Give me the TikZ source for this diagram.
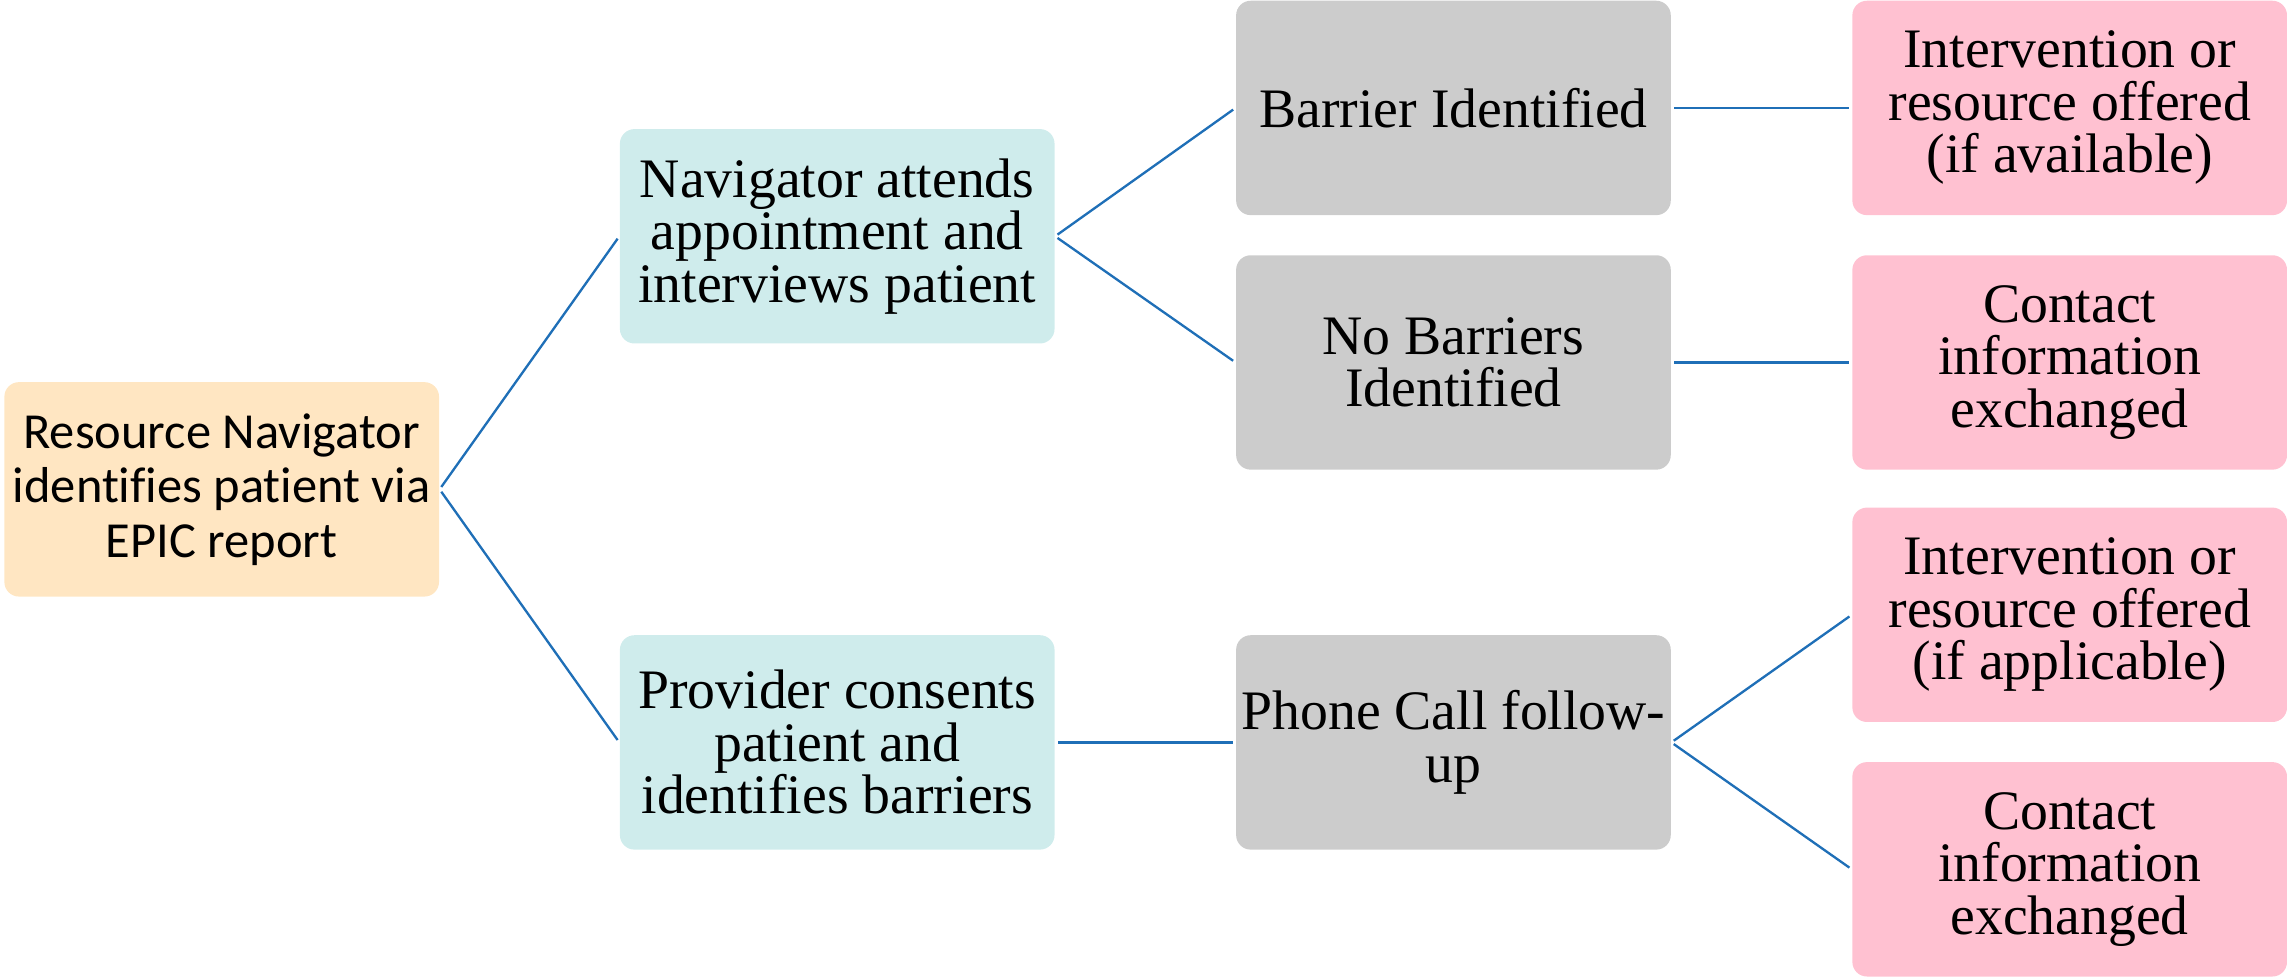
\documentclass[tikz,border=0pt]{standalone}
\usepackage{fontspec}
\setmainfont{Liberation Serif}
\newfontfamily\rootfont[Ligatures=NoCommon]{Carlito}
\begin{document}
\begin{tikzpicture}[x=0.5pt,y=-0.5pt,
  box/.style={rounded corners=5pt,minimum width=149pt,minimum height=73.5pt,
    inner sep=1pt,align=center,
    font=\fontsize{19.1}{18}\selectfont},
  rootbox/.style={box,fill=rootfill,font=\rootfont\fontsize{17.3}{18.7}\selectfont},
  tealbox/.style={box,fill=tealfill},
  graybox/.style={box,fill=grayfill},
  pinkbox/.style={box,fill=pinkfill},
  link/.style={draw=linkblue,line width=0.8pt,shorten <=1pt,shorten >=1pt}]
\definecolor{rootfill}{HTML}{FFE6C2}
\definecolor{tealfill}{HTML}{CFECEC}
\definecolor{grayfill}{HTML}{CCCCCC}
\definecolor{pinkfill}{HTML}{FFC1D1}
\definecolor{linkblue}{HTML}{1F6FB7}
\useasboundingbox (0,0) rectangle (1568,670);

\node[rootbox] (root) at (152,335.5) {Resource Navigator\\identifies patient via\\EPIC report};

\node[tealbox] (nav) at (574,162) {Navigator attends\\appointment and\\interviews patient};
\node[tealbox] (prov) at (574,509) {Provider consents\\patient and\\identifies barriers};

\node[graybox] (barrier) at (996.5,74) {Barrier Identified};
\node[graybox] (nobarr) at (996.5,248.5) {No Barriers\\Identified};
\node[graybox] (phone) at (996.5,509) {Phone Call follow-\\up};

\node[pinkbox] (offer1) at (1419,74) {Intervention or\\resource offered\\(if available)};
\node[pinkbox] (contact1) at (1419,248.5) {Contact\\information\\exchanged};
\node[pinkbox] (offer2) at (1419,421.5) {Intervention or\\resource offered\\(if applicable)};
\node[pinkbox] (contact2) at (1419,596) {Contact\\information\\exchanged};

\path[link] (root.east) -- (nav.west);
\path[link] (root.east) -- (prov.west);
\path[link] (nav.east) -- (barrier.west);
\path[link] (nav.east) -- (nobarr.west);
\path[link] (prov.east) -- (phone.west);
\path[link] (barrier.east) -- (offer1.west);
\path[link] (nobarr.east) -- (contact1.west);
\path[link] (phone.east) -- (offer2.west);
\path[link] (phone.east) -- (contact2.west);
\end{tikzpicture}
\end{document}
